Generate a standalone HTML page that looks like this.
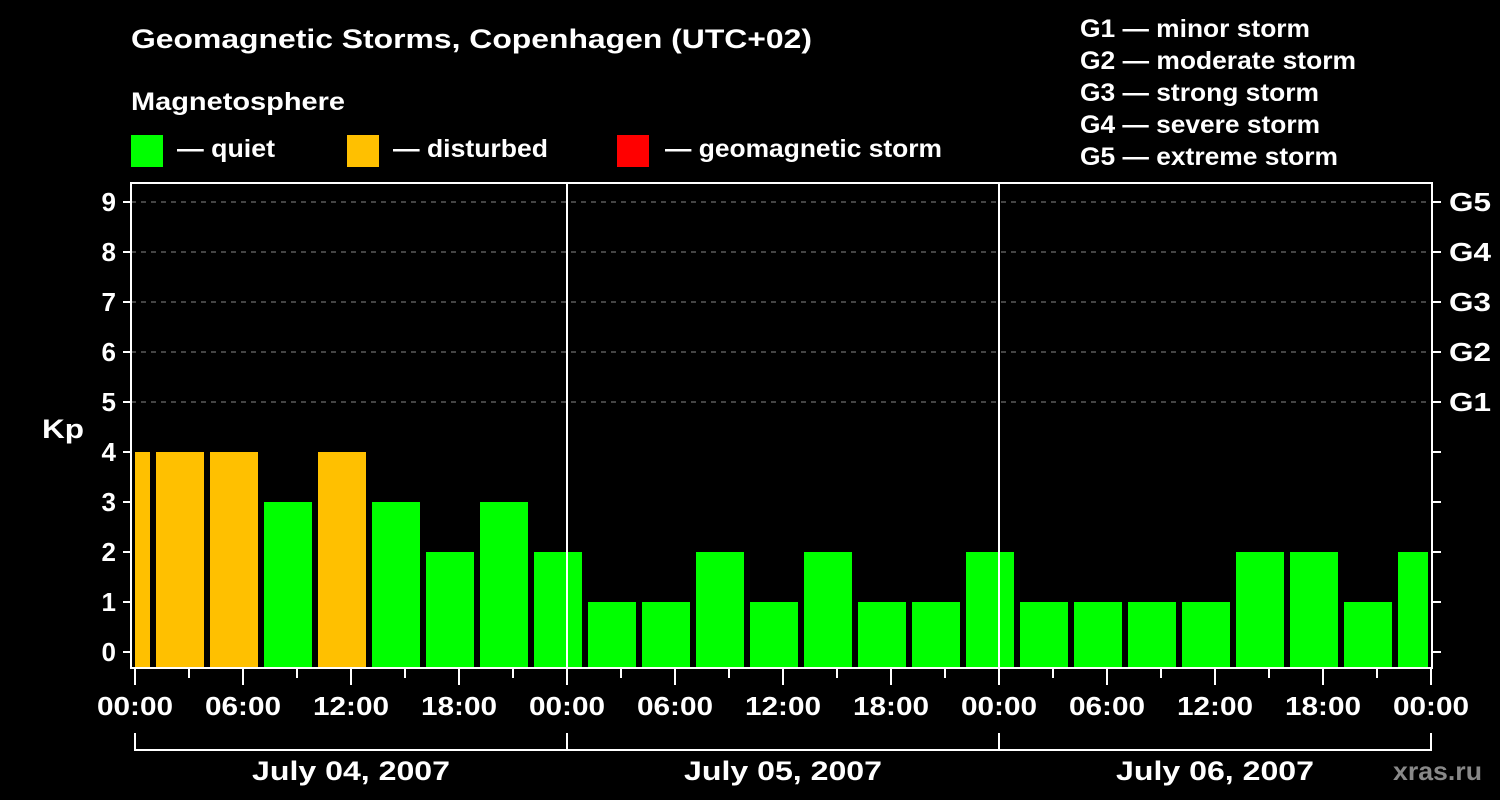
<!DOCTYPE html>
<html><head><meta charset="utf-8"><style>
html,body{margin:0;padding:0;background:#000;width:1500px;height:800px;overflow:hidden}
svg text{font-family:"Liberation Sans",Arial,sans-serif;font-weight:bold;fill:#fff}
</style></head><body>
<svg id="chart" width="1500" height="800" xmlns="http://www.w3.org/2000/svg">
<defs><clipPath id="pc"><rect x="135" y="183" width="1293" height="486"/></clipPath></defs>
<text x="131" y="48" font-size="27" textLength="681" lengthAdjust="spacingAndGlyphs">Geomagnetic Storms, Copenhagen (UTC+02)</text>
<text x="131" y="110" font-size="25" textLength="214" lengthAdjust="spacingAndGlyphs">Magnetosphere</text>
<g><rect x="131" y="135" width="32" height="32" fill="#00ff00"/><text x="177" y="157" font-size="25" textLength="98" lengthAdjust="spacingAndGlyphs">— quiet</text></g>
<g><rect x="347" y="135" width="32" height="32" fill="#ffc000"/><text x="393" y="157" font-size="25" textLength="155" lengthAdjust="spacingAndGlyphs">— disturbed</text></g>
<g><rect x="617" y="135" width="32" height="32" fill="#ff0000"/><text x="665" y="157" font-size="25" textLength="277" lengthAdjust="spacingAndGlyphs">— geomagnetic storm</text></g>
<g font-size="25">
<text x="1080" y="37" textLength="230" lengthAdjust="spacingAndGlyphs">G1 — minor storm</text>
<text x="1080" y="69" textLength="276" lengthAdjust="spacingAndGlyphs">G2 — moderate storm</text>
<text x="1080" y="101" textLength="239" lengthAdjust="spacingAndGlyphs">G3 — strong storm</text>
<text x="1080" y="133" textLength="240" lengthAdjust="spacingAndGlyphs">G4 — severe storm</text>
<text x="1080" y="165" textLength="258" lengthAdjust="spacingAndGlyphs">G5 — extreme storm</text></g>
<text x="42" y="438" font-size="27" textLength="42" lengthAdjust="spacingAndGlyphs">Kp</text>
<g id="grid"></g><g id="bars" clip-path="url(#pc)"></g><g id="axes"></g>
<text x="1393" y="780" font-size="26" style="fill:#888" textLength="89" lengthAdjust="spacingAndGlyphs">xras.ru</text>
</svg>
<script>
const kpValues=[4,4,4,3,4,3,2,3,2,1,1,2,1,2,1,1,2,1,1,1,1,2,2,1,2];
const dayLabels=["July 04, 2007","July 05, 2007","July 06, 2007"];
const hourLabels=["00:00","06:00","12:00","18:00"];
const gLabels=["G1","G2","G3","G4","G5"];
const NS="http://www.w3.org/2000/svg";
const X0=135,PX_H=18,Y0=652,PX_K=50,P_LEFT=131,P_RIGHT=1432,P_TOP=183,P_BOTTOM=668;
const xs=h=>X0+h*PX_H, ys=k=>Y0-k*PX_K;
function mk(tag,attrs,parent,txt){const e=document.createElementNS(NS,tag);for(const k in attrs)e.setAttribute(k,attrs[k]);if(txt!==undefined)e.textContent=txt;parent.appendChild(e);return e;}
const gridG=document.getElementById('grid'),barsG=document.getElementById('bars'),axesG=document.getElementById('axes');
for(let k=5;k<=9;k++){const l=mk('line',{x1:P_LEFT,x2:P_RIGHT,y1:ys(k),y2:ys(k),stroke:'#888','stroke-dasharray':'5,5','stroke-width':1},gridG);

}
kpValues.forEach((v,i)=>{const xl=xs(i*3-2)+3;const r=mk('rect',{x:xl,y:ys(v),width:48,height:P_BOTTOM-ys(v),fill:v>=5?'#ff0000':(v>=4?'#ffc000':'#00ff00')},barsG);

});
const frame=mk('rect',{x:P_LEFT,y:P_TOP,width:P_RIGHT-P_LEFT,height:P_BOTTOM-P_TOP,fill:'none',stroke:'#fff','stroke-width':2},axesG);


for(let d=1;d<dayLabels.length;d++){const l=mk('line',{x1:xs(24*d),x2:xs(24*d),y1:P_TOP,y2:P_BOTTOM,stroke:'#fff','stroke-width':2},axesG);

}
for(let k=0;k<=9;k++){
mk('line',{x1:123,x2:P_LEFT,y1:ys(k),y2:ys(k),stroke:'#fff','stroke-width':2},axesG);
mk('line',{x1:P_RIGHT,x2:1441,y1:ys(k),y2:ys(k),stroke:'#fff','stroke-width':2},axesG);
const t=mk('text',{x:116,y:ys(k)+9,'font-size':26,'text-anchor':'end'},axesG,String(k));


if(k>=5){const g=mk('text',{x:1449,y:ys(k)+9,'font-size':26,textLength:42,lengthAdjust:'spacingAndGlyphs'},axesG,gLabels[k-5]);

}}
for(let h=0;h<=72;h+=3){const maj=h%6===0;mk('line',{x1:xs(h),x2:xs(h),y1:P_BOTTOM,y2:maj?685:678,stroke:'#fff','stroke-width':2},axesG);
if(maj){const t=mk('text',{x:xs(h)-38,y:715,'font-size':26,textLength:76,lengthAdjust:'spacingAndGlyphs'},axesG,hourLabels[(h/6)%4]);

}}
mk('line',{x1:xs(0),x2:xs(72),y1:750,y2:750,stroke:'#fff','stroke-width':2},axesG);
for(let d=0;d<=dayLabels.length;d++)mk('line',{x1:xs(24*d),x2:xs(24*d),y1:733,y2:751,stroke:'#fff','stroke-width':2},axesG);
dayLabels.forEach((s,d)=>{const t=mk('text',{x:xs(24*d+12)-99,y:780,'font-size':27,textLength:198,lengthAdjust:'spacingAndGlyphs'},axesG,s);

});
</script>
</body></html>
